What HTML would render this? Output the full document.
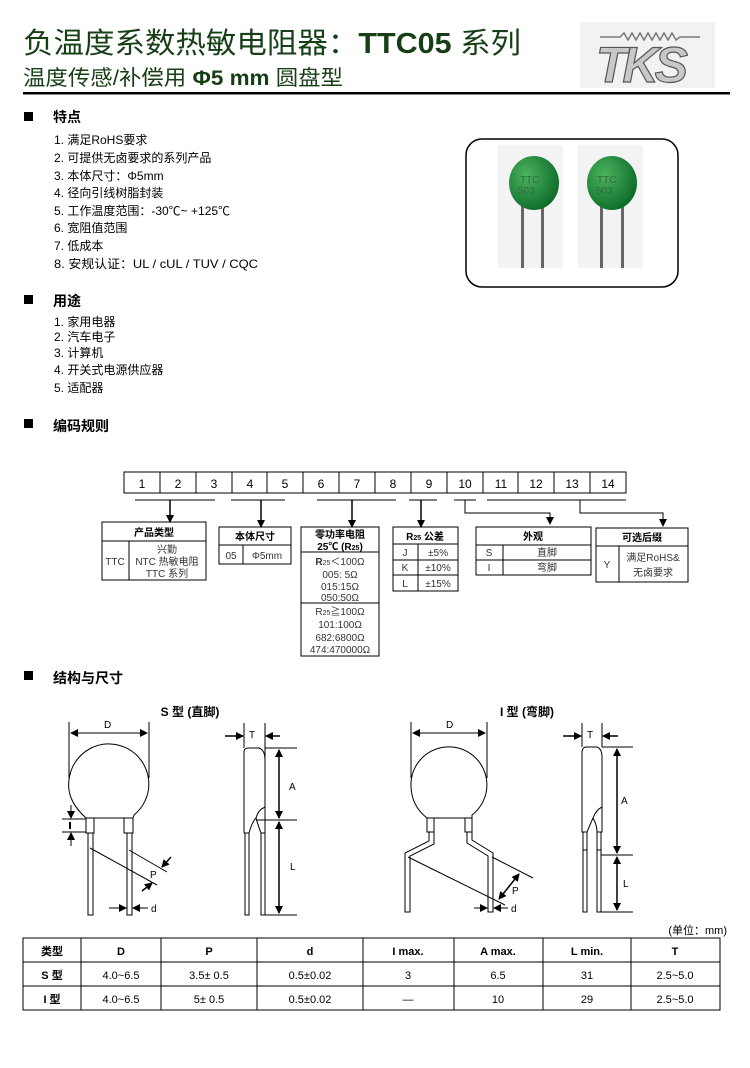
<!DOCTYPE html>
<html><head><meta charset="utf-8"><style>
html,body{margin:0;padding:0;background:#fff}
svg{display:block}
text{font-family:"Liberation Sans","Noto Sans CJK SC",sans-serif;fill:#000}
.t{font-size:12px}
.h{font-size:14px;font-weight:bold}
.c{font-size:10px;text-anchor:middle}
.cb{font-size:10px;font-weight:bold;text-anchor:middle}
.n{font-size:12px;text-anchor:middle}
</style></head><body>
<svg width="750" height="1068" viewBox="0 0 750 1068" xmlns="http://www.w3.org/2000/svg">
<defs>
<marker id="a" markerWidth="8" markerHeight="8" refX="7" refY="4" orient="auto" markerUnits="userSpaceOnUse"><path d="M0,0 L8,4 L0,8 z" fill="#000"/></marker>
<marker id="s" markerWidth="8" markerHeight="8" refX="1" refY="4" orient="auto" markerUnits="userSpaceOnUse"><path d="M8,0 L0,4 L8,8 z" fill="#000"/></marker>
<radialGradient id="gr" cx="0.35" cy="0.35" r="0.7"><stop offset="0" stop-color="#4cb35e"/><stop offset="1" stop-color="#0d6b2a"/></radialGradient>
</defs>
<!-- header -->
<text x="23" y="53" font-size="29" style="fill:#163f16" textLength="498" lengthAdjust="spacingAndGlyphs">负温度系数热敏电阻器：<tspan font-weight="bold">TTC05</tspan> 系列</text>
<text x="23" y="85" font-size="21" style="fill:#163f16" textLength="320" lengthAdjust="spacingAndGlyphs">温度传感/补偿用 <tspan font-weight="bold">Φ5 mm</tspan> 圆盘型</text>
<rect x="580" y="22" width="135" height="66" fill="#f2f2f2"/>
<polyline points="600,37 620,37 624,33 628,40 632,33 636,40 640,33 644,40 648,33 652,40 656,33 660,40 664,33 668,40 672,33 676,40 680,37 700,37" fill="none" stroke="#777" stroke-width="1.5"/>
<text x="596" y="82" font-size="50" font-style="italic" font-weight="bold" style="fill:#c8c8c8;stroke:#555;stroke-width:1.2" letter-spacing="-4">TKS</text>
<rect x="23" y="92" width="707" height="2.5" fill="#000"/>
<!-- features -->
<rect x="24" y="112" width="9" height="9" fill="#000"/>
<text x="53" y="122" class="h">特点</text>
<text x="54" y="144" class="t">1.  满足RoHS要求</text>
<text x="54" y="162" class="t">2.  可提供无卤要求的系列产品</text>
<text x="54" y="180" class="t">3.  本体尺寸：Φ5mm</text>
<text x="54" y="197" class="t">4.  径向引线树脂封装</text>
<text x="54" y="215" class="t">5.  工作温度范围：-30℃~ +125℃</text>
<text x="54" y="232" class="t">6.  宽阻值范围</text>
<text x="54" y="250" class="t">7.  低成本</text>
<text x="54" y="268" class="t" textLength="204" lengthAdjust="spacingAndGlyphs">8.  安规认证：UL / cUL / TUV / CQC</text>
<rect x="24" y="295" width="9" height="9" fill="#000"/>
<text x="53" y="306" class="h">用途</text>
<text x="54" y="326" class="t">1.  家用电器</text>
<text x="54" y="341" class="t">2.  汽车电子</text>
<text x="54" y="357" class="t">3.  计算机</text>
<text x="54" y="374" class="t">4.  开关式电源供应器</text>
<text x="54" y="392" class="t">5.  适配器</text>
<rect x="24" y="419" width="9" height="9" fill="#000"/>
<text x="53" y="431" class="h">编码规则</text>
<!-- photo -->
<rect x="466" y="139" width="212" height="148" rx="16" fill="#fff" stroke="#000" stroke-width="1.5"/>
<rect x="498" y="145" width="65" height="123" fill="#f3f3f3"/>
<rect x="578" y="145" width="65" height="123" fill="#f3f3f3"/>
<rect x="521" y="200" width="3" height="68" fill="#666"/><rect x="541" y="200" width="3" height="68" fill="#666"/>
<rect x="600" y="200" width="3" height="68" fill="#666"/><rect x="621" y="200" width="3" height="68" fill="#666"/>
<ellipse cx="534" cy="183" rx="25" ry="27" fill="url(#gr)"/>
<ellipse cx="612" cy="183" rx="25" ry="27" fill="url(#gr)"/>
<text x="520" y="183" font-size="10" style="fill:#2c6e38" font-family="Liberation Serif">TTC</text>
<text x="518" y="194" font-size="10" style="fill:#2c6e38">503</text>
<text x="597" y="183" font-size="10" style="fill:#2c6e38" font-family="Liberation Serif">TTC</text>
<text x="596" y="194" font-size="10" style="fill:#2c6e38">503</text>
<!-- code digits -->
<g stroke="#000" stroke-width="1" fill="none">
<rect x="124" y="472" width="502" height="21"/>
<line x1="160" y1="472" x2="160" y2="493"/><line x1="196" y1="472" x2="196" y2="493"/><line x1="232" y1="472" x2="232" y2="493"/><line x1="267" y1="472" x2="267" y2="493"/><line x1="303" y1="472" x2="303" y2="493"/><line x1="339" y1="472" x2="339" y2="493"/><line x1="375" y1="472" x2="375" y2="493"/><line x1="411" y1="472" x2="411" y2="493"/><line x1="447" y1="472" x2="447" y2="493"/><line x1="483" y1="472" x2="483" y2="493"/><line x1="518" y1="472" x2="518" y2="493"/><line x1="554" y1="472" x2="554" y2="493"/><line x1="590" y1="472" x2="590" y2="493"/>
<line x1="135" y1="500" x2="215" y2="500"/><line x1="231" y1="500" x2="285" y2="500"/><line x1="317" y1="500" x2="396" y2="500"/><line x1="409" y1="500" x2="437" y2="500"/><line x1="454" y1="500" x2="476" y2="500"/><line x1="487" y1="500" x2="626" y2="500"/>
<line x1="170" y1="500" x2="170" y2="522" marker-end="url(#a)" stroke-width="1.5"/>
<line x1="261" y1="500" x2="261" y2="527" marker-end="url(#a)" stroke-width="1.5"/>
<line x1="352" y1="500" x2="352" y2="527" marker-end="url(#a)" stroke-width="1.5"/>
<line x1="421" y1="500" x2="421" y2="527" marker-end="url(#a)" stroke-width="1.5"/>
<polyline points="465,500 465,513 550,513 550,524" marker-end="url(#a)"/>
<polyline points="580,500 580,513 663,513 663,526" marker-end="url(#a)"/>
</g>
<g><text x="142" y="488" class="n">1</text><text x="178" y="488" class="n">2</text><text x="214" y="488" class="n">3</text><text x="250" y="488" class="n">4</text><text x="285" y="488" class="n">5</text><text x="321" y="488" class="n">6</text><text x="357" y="488" class="n">7</text><text x="393" y="488" class="n">8</text><text x="429" y="488" class="n">9</text><text x="465" y="488" class="n">10</text><text x="501" y="488" class="n">11</text><text x="536" y="488" class="n">12</text><text x="572" y="488" class="n">13</text><text x="608" y="488" class="n">14</text></g>
<!-- code boxes -->
<g stroke="#000" stroke-width="1" fill="none">
<rect x="102" y="522" width="104" height="58"/><line x1="102" y1="541" x2="206" y2="541"/><line x1="129" y1="541" x2="129" y2="580"/>
<rect x="219" y="527" width="72" height="37"/><line x1="219" y1="545" x2="291" y2="545"/><line x1="243" y1="545" x2="243" y2="564"/>
<rect x="301" y="527" width="78" height="129"/><line x1="301" y1="552" x2="379" y2="552"/><line x1="301" y1="603" x2="379" y2="603"/>
<rect x="393" y="527" width="65" height="64"/><line x1="393" y1="544" x2="458" y2="544"/><line x1="393" y1="560" x2="458" y2="560"/><line x1="393" y1="575" x2="458" y2="575"/><line x1="418" y1="544" x2="418" y2="591"/>
<rect x="476" y="527" width="115" height="48"/><line x1="476" y1="545" x2="591" y2="545"/><line x1="476" y1="560" x2="591" y2="560"/><line x1="503" y1="545" x2="503" y2="575"/>
<rect x="596" y="528" width="92" height="54"/><line x1="596" y1="546" x2="688" y2="546"/><line x1="619" y1="546" x2="619" y2="582"/>
</g>
<text x="154" y="536" class="cb">产品类型</text>
<text x="115" y="565" class="c" style="fill:#333">TTC</text>
<text x="167" y="553" class="c" style="fill:#333">兴勤</text><text x="167" y="565" class="c" style="fill:#333">NTC 热敏电阻</text><text x="167" y="577" class="c" style="fill:#333">TTC 系列</text>
<text x="255" y="540" class="cb">本体尺寸</text>
<text x="231" y="559" class="c" style="fill:#333">05</text><text x="267" y="559" class="c" style="fill:#333">Φ5mm</text>
<text x="340" y="538" class="cb">零功率电阻</text><text x="340" y="550" class="cb">25℃ (R<tspan font-size="7">25</tspan>)</text>
<text x="340" y="565" class="c" style="fill:#333"><tspan font-weight="bold">R</tspan><tspan font-size="7">25</tspan>＜100Ω</text>
<text x="340" y="578" class="c" style="fill:#333">005: 5Ω</text><text x="340" y="590" class="c" style="fill:#333">015:15Ω</text><text x="340" y="601" class="c" style="fill:#333">050:50Ω</text>
<text x="340" y="615" class="c" style="fill:#333">R<tspan font-size="7">25</tspan>≧100Ω</text>
<text x="340" y="628" class="c" style="fill:#333">101:100Ω</text><text x="340" y="641" class="c" style="fill:#333">682:6800Ω</text><text x="340" y="653" class="c" style="fill:#333">474:470000Ω</text>
<text x="425" y="540" class="cb">R<tspan font-size="7">25</tspan> 公差</text>
<text x="405" y="556" class="c" style="fill:#333">J</text><text x="438" y="556" class="c" style="fill:#333">±5%</text>
<text x="405" y="571" class="c" style="fill:#333">K</text><text x="438" y="571" class="c" style="fill:#333">±10%</text>
<text x="405" y="587" class="c" style="fill:#333">L</text><text x="438" y="587" class="c" style="fill:#333">±15%</text>
<text x="533" y="540" class="cb">外观</text>
<text x="489" y="556" class="c" style="fill:#333">S</text><text x="547" y="556" class="c" style="fill:#333">直脚</text>
<text x="489" y="571" class="c" style="fill:#333">I</text><text x="547" y="571" class="c" style="fill:#333">弯脚</text>
<text x="642" y="541" class="cb">可选后缀</text>
<text x="607" y="568" class="c" style="fill:#333">Y</text><text x="653" y="561" class="c" style="fill:#333">满足RoHS&amp;</text><text x="653" y="576" class="c" style="fill:#333">无卤要求</text>
<!-- structure -->
<rect x="24" y="671" width="9" height="9" fill="#000"/>
<text x="53" y="683" class="h">结构与尺寸</text>
<text x="190" y="716" font-size="12" font-weight="bold" text-anchor="middle">S 型 (直脚)</text>
<text x="527" y="716" font-size="12" font-weight="bold" text-anchor="middle">I 型 (弯脚)</text>
<g stroke="#000" stroke-width="1" fill="none">
<line x1="69" y1="722" x2="69" y2="778"/><line x1="149" y1="722" x2="149" y2="778"/>
<line x1="71" y1="733" x2="147" y2="733" marker-end="url(#a)" marker-start="url(#s)"/>
<path d="M86,818 Q66,800 69,780 A40,40 0 1 1 134,815 L133,818 Z"/>
<path d="M86,818 L86,833 L94,833 L94,818 M124,818 L124,833 L133,833 L133,818 M94,818 L124,818"/>
<rect x="88" y="833" width="5" height="82"/><rect x="127" y="833" width="5" height="82"/>
<line x1="62" y1="819" x2="86" y2="819"/><line x1="62" y1="832" x2="86" y2="832"/>
<line x1="71" y1="805" x2="71" y2="818" marker-end="url(#a)"/><line x1="71" y1="846" x2="71" y2="833" marker-end="url(#a)"/>
<line x1="70" y1="822" x2="70" y2="829" stroke-width="2"/>
<line x1="90" y1="848" x2="157" y2="885"/><line x1="129" y1="850" x2="167" y2="872"/>
<line x1="142" y1="891" x2="152" y2="883" marker-end="url(#a)" stroke-width="1.5"/><line x1="171" y1="857" x2="162" y2="867" marker-end="url(#a)" stroke-width="1.5"/>
<line x1="109" y1="908" x2="126" y2="908" marker-end="url(#a)"/><line x1="148" y1="908" x2="133" y2="908" marker-end="url(#a)"/>
<line x1="244" y1="723" x2="244" y2="748"/><line x1="265" y1="723" x2="265" y2="915"/>
<line x1="225" y1="736" x2="243" y2="736" marker-end="url(#a)" stroke-width="1.5"/><line x1="280" y1="736" x2="266" y2="736" marker-end="url(#a)" stroke-width="1.5"/>
<path d="M244,833 L244,751 Q245,748 248,748 L259,748 Q265,750 265,760"/>
<path d="M244,833 L249,833 Q252,822 256,818 M265,833 L261,833 Q257,822 256,818 M256,818 Q258,810 265,807"/>
<rect x="245" y="833" width="4" height="82"/><rect x="261" y="833" width="4" height="82"/>
<line x1="265" y1="748" x2="297" y2="748"/><line x1="256" y1="820" x2="297" y2="820"/><line x1="265" y1="915" x2="297" y2="915"/>
<line x1="279" y1="750" x2="279" y2="818" marker-end="url(#a)" marker-start="url(#s)" stroke-width="1.5"/>
<line x1="279" y1="822" x2="279" y2="913" marker-end="url(#a)" marker-start="url(#s)" stroke-width="1.5"/>
<line x1="411" y1="722" x2="411" y2="778"/><line x1="487" y1="722" x2="487" y2="778"/>
<line x1="413" y1="733" x2="485" y2="733" marker-end="url(#a)" marker-start="url(#s)"/>
<path d="M427,818 Q410,805 411,782 A38,38 0 1 1 472,815 L472,818 Z"/>
<path d="M427,818 L427,832 L434,832 L434,818 M465,818 L465,832 L472,832 L472,818 M434,818 L465,818"/>
<path d="M429,832 L429,841 L405,853 L405,912 L410,912 L410,856 L434,844 L434,832"/>
<path d="M467,832 L467,843 L488,856 L488,912 L493,912 L493,853 L472,840 L472,832"/>
<line x1="408" y1="857" x2="505" y2="905"/><line x1="492" y1="857" x2="533" y2="878"/>
<line x1="499" y1="899" x2="519" y2="874" marker-end="url(#a)" marker-start="url(#s)" stroke-width="1.5"/>
<line x1="474" y1="908" x2="487" y2="908" marker-end="url(#a)"/><line x1="508" y1="908" x2="494" y2="908" marker-end="url(#a)"/>
<line x1="582" y1="723" x2="582" y2="747"/><line x1="602" y1="723" x2="602" y2="747"/>
<line x1="563" y1="736" x2="581" y2="736" marker-end="url(#a)" stroke-width="1.5"/><line x1="618" y1="736" x2="603" y2="736" marker-end="url(#a)" stroke-width="1.5"/>
<path d="M582,832 L582,751 Q583,747 586,747 L597,747 Q602,749 602,757 L602,807 Q596,810 593,818 Q590,825 587,832 Z M593,818 Q597,825 597,832 L602,832 L602,807"/>
<path d="M583,832 L583,912 L587,912 L587,832 M597,832 L597,912 L601,912 L601,832 M583,850 L587,850 M597,850 L601,850"/>
<line x1="602" y1="747" x2="633" y2="747"/><line x1="601" y1="855" x2="633" y2="855"/><line x1="601" y1="912" x2="633" y2="912"/>
<line x1="617" y1="749" x2="617" y2="853" marker-end="url(#a)" marker-start="url(#s)" stroke-width="1.5"/>
<line x1="617" y1="857" x2="617" y2="910" marker-end="url(#a)" marker-start="url(#s)" stroke-width="1.5"/>
</g>
<g style="fill:#333">
<text x="104" y="728" font-size="10">D</text><text x="446" y="728" font-size="10">D</text>
<text x="150" y="878" font-size="10">P</text><text x="512" y="894" font-size="10">P</text>
<text x="151" y="912" font-size="10">d</text><text x="511" y="912" font-size="10">d</text>
<text x="249" y="738" font-size="10">T</text><text x="587" y="738" font-size="10">T</text>
<text x="289" y="790" font-size="10">A</text><text x="290" y="870" font-size="10">L</text>
<text x="621" y="804" font-size="10">A</text><text x="623" y="887" font-size="10">L</text>
</g>
<!-- table -->
<text x="727" y="934" font-size="11" text-anchor="end">(单位：mm)</text>
<g stroke="#000" stroke-width="1" fill="none">
<rect x="23" y="938" width="697" height="72"/>
<line x1="23" y1="962" x2="720" y2="962"/><line x1="23" y1="986" x2="720" y2="986"/>
<line x1="81" y1="938" x2="81" y2="1010"/><line x1="161" y1="938" x2="161" y2="1010"/><line x1="257" y1="938" x2="257" y2="1010"/><line x1="363" y1="938" x2="363" y2="1010"/><line x1="454" y1="938" x2="454" y2="1010"/><line x1="543" y1="938" x2="543" y2="1010"/><line x1="631" y1="938" x2="631" y2="1010"/>
</g>
<g font-size="11">
<text x="52" y="955" font-weight="bold" text-anchor="middle">类型</text><text x="121" y="955" font-weight="bold" text-anchor="middle">D</text><text x="209" y="955" font-weight="bold" text-anchor="middle">P</text><text x="310" y="955" font-weight="bold" text-anchor="middle">d</text><text x="408" y="955" font-weight="bold" text-anchor="middle">I max.</text><text x="498" y="955" font-weight="bold" text-anchor="middle">A max.</text><text x="587" y="955" font-weight="bold" text-anchor="middle">L min.</text><text x="675" y="955" font-weight="bold" text-anchor="middle">T</text>
<text x="52" y="979" font-weight="bold" text-anchor="middle">S 型</text><text x="121" y="979" text-anchor="middle">4.0~6.5</text><text x="209" y="979" text-anchor="middle">3.5± 0.5</text><text x="310" y="979" text-anchor="middle">0.5±0.02</text><text x="408" y="979" text-anchor="middle">3</text><text x="498" y="979" text-anchor="middle">6.5</text><text x="587" y="979" text-anchor="middle">31</text><text x="675" y="979" text-anchor="middle">2.5~5.0</text>
<text x="52" y="1003" font-weight="bold" text-anchor="middle">I 型</text><text x="121" y="1003" text-anchor="middle">4.0~6.5</text><text x="209" y="1003" text-anchor="middle">5± 0.5</text><text x="310" y="1003" text-anchor="middle">0.5±0.02</text><text x="408" y="1003" text-anchor="middle">—</text><text x="498" y="1003" text-anchor="middle">10</text><text x="587" y="1003" text-anchor="middle">29</text><text x="675" y="1003" text-anchor="middle">2.5~5.0</text>
</g>
</svg>
</body></html>
